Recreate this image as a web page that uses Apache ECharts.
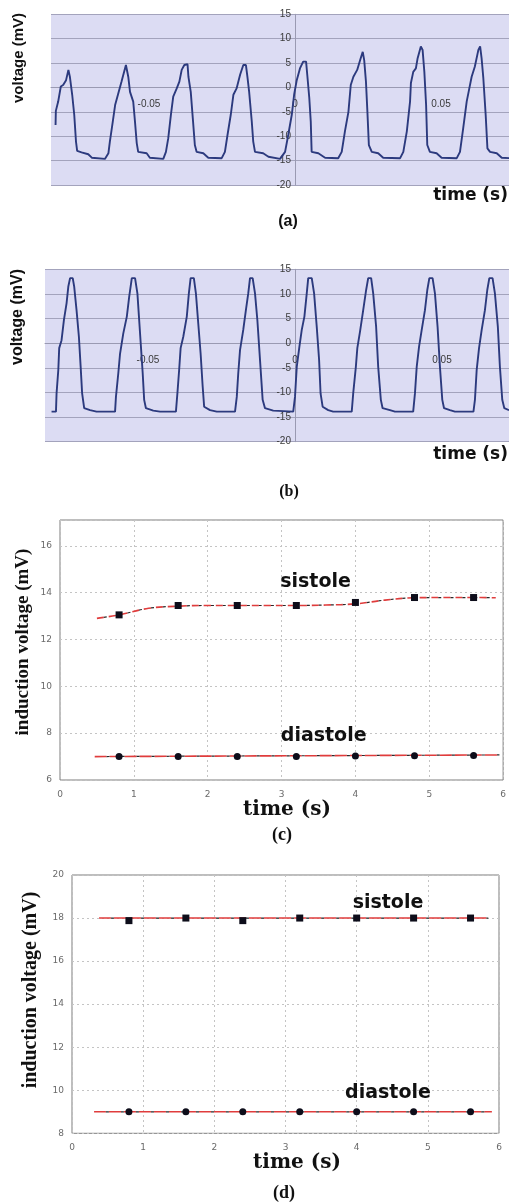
<!DOCTYPE html>
<html>
<head>
<meta charset="utf-8">
<script src="https://cdn.jsdelivr.net/npm/echarts@6/dist/echarts.min.js"></script>
<style>
html,body{margin:0;padding:0;background:#fff;}
#chart{width:509px;height:1203px;}
</style>
</head>
<body>
<div id="chart"></div>
<script>
// ---------- DATA ----------
// Panel (a): measured voltage waveform (time in s, voltage in mV)
var TIME_A = [-0.0820,-0.0819,-0.0811,-0.0802,-0.0794,-0.0784,-0.0776,-0.0771,-0.0763,-0.0756,-0.0750,-0.0746,-0.0731,-0.0708,-0.0696,-0.0651,-0.0639,-0.0634,-0.0624,-0.0616,-0.0605,-0.0594,-0.0579,-0.0571,-0.0565,-0.0554,-0.0548,-0.0542,-0.0537,-0.0508,-0.0497,-0.0451,-0.0442,-0.0434,-0.0425,-0.0417,-0.0405,-0.0396,-0.0388,-0.0379,-0.0368,-0.0365,-0.0357,-0.0350,-0.0343,-0.0337,-0.0314,-0.0297,-0.0251,-0.0240,-0.0231,-0.0220,-0.0211,-0.0200,-0.0188,-0.0177,-0.0168,-0.0163,-0.0157,-0.0148,-0.0143,-0.0137,-0.0109,-0.0091,-0.0051,-0.0034,-0.0023,-0.0011,-0.0003,0.0006,0.0017,0.0028,0.0038,0.0042,0.0049,0.0054,0.0057,0.0080,0.0103,0.0148,0.0160,0.0171,0.0183,0.0191,0.0200,0.0213,0.0225,0.0232,0.0237,0.0243,0.0248,0.0253,0.0263,0.0285,0.0302,0.0360,0.0371,0.0383,0.0394,0.0397,0.0405,0.0414,0.0420,0.0431,0.0437,0.0443,0.0449,0.0453,0.0462,0.0485,0.0502,0.0554,0.0565,0.0576,0.0588,0.0597,0.0605,0.0616,0.0628,0.0634,0.0639,0.0645,0.0653,0.0659,0.0668,0.0691,0.0708,0.0733];
var VOLT_A = [-7.7,-4.8,-2.9,0.2,0.5,1.5,3.6,2.2,-1.5,-5.6,-11.1,-13.0,-13.3,-13.7,-14.4,-14.65,-13.5,-11.1,-7.0,-3.6,-1.2,1.2,4.6,2.2,-0.9,-2.9,-7.0,-11.4,-13.2,-13.5,-14.4,-14.65,-13.2,-10.4,-5.6,-1.9,-0.2,1.2,3.6,4.6,4.75,2.2,-0.9,-6.3,-11.8,-13.2,-13.5,-14.4,-14.5,-13.2,-9.7,-5.6,-1.5,-0.2,2.6,4.6,4.6,2.2,-0.9,-7.0,-11.1,-13.2,-13.5,-14.2,-14.65,-13.2,-9.7,-5.6,-1.5,1.5,3.9,5.3,5.3,2.6,-2.2,-7.0,-13.2,-13.5,-14.4,-14.5,-13.2,-9.0,-5.0,0.5,2.2,3.6,6.0,7.3,5.6,1.2,-5.0,-11.8,-13.2,-13.5,-14.4,-14.5,-13.2,-9.0,-2.9,0.9,3.2,3.9,6.0,8.4,7.7,3.2,-3.6,-11.8,-13.2,-13.5,-14.4,-14.5,-13.2,-8.4,-2.9,-0.2,2.2,4.3,7.7,8.4,6.0,1.9,-5.6,-12.5,-13.2,-13.5,-14.4,-14.5];

// Panel (b): simulated voltage waveform
var TIME_B = [-0.0828,-0.0813,-0.0811,-0.0805,-0.0802,-0.0794,-0.0786,-0.0777,-0.0771,-0.0765,-0.0756,-0.0751,-0.0743,-0.0735,-0.0729,-0.0724,-0.0717,-0.0697,-0.0675,-0.0612,-0.0609,-0.0601,-0.0595,-0.0584,-0.0572,-0.0564,-0.0555,-0.0544,-0.0536,-0.0530,-0.0524,-0.0518,-0.0513,-0.0507,-0.0482,-0.0459,-0.0405,-0.0400,-0.0394,-0.0389,-0.0380,-0.0368,-0.0361,-0.0355,-0.0344,-0.0337,-0.0329,-0.0321,-0.0314,-0.0309,-0.0289,-0.0266,-0.0204,-0.0198,-0.0193,-0.0187,-0.0176,-0.0167,-0.0159,-0.0153,-0.0144,-0.0136,-0.0128,-0.0119,-0.0110,-0.0102,-0.0074,-0.0006,0.0000,0.0006,0.0015,0.0023,0.0032,0.0040,0.0045,0.0057,0.0065,0.0074,0.0082,0.0087,0.0094,0.0113,0.0130,0.0193,0.0198,0.0207,0.0212,0.0221,0.0232,0.0242,0.0249,0.0259,0.0266,0.0276,0.0283,0.0292,0.0298,0.0323,0.0340,0.0402,0.0408,0.0414,0.0422,0.0431,0.0442,0.0450,0.0457,0.0468,0.0476,0.0485,0.0493,0.0501,0.0507,0.0527,0.0544,0.0607,0.0612,0.0618,0.0626,0.0635,0.0646,0.0654,0.0661,0.0672,0.0680,0.0690,0.0697,0.0705,0.0712,0.0728];
var VOLT_B = [-13.9,-13.9,-10.2,-5.4,-1.0,0.6,4.7,8.1,11.5,13.2,13.2,11.5,6.7,1.3,-4.8,-10.2,-13.2,-13.6,-13.9,-13.9,-10.9,-6.1,-2.1,2.0,5.4,9.4,13.2,13.2,10.1,4.7,-0.7,-6.1,-11.5,-13.2,-13.7,-13.9,-13.9,-10.2,-5.4,-1.0,1.3,5.4,10.1,13.2,13.2,10.1,4.0,-2.1,-8.8,-12.9,-13.6,-13.9,-13.9,-10.9,-6.1,-1.4,2.7,6.7,10.1,13.2,13.2,10.1,4.7,-3.4,-11.5,-13.2,-13.7,-13.9,-10.9,-4.8,-0.7,2.7,5.4,10.1,13.2,13.2,10.1,3.3,-3.4,-10.2,-12.9,-13.6,-13.9,-13.9,-10.2,-4.8,-1.0,2.3,6.7,10.8,13.2,13.2,10.1,3.3,-4.8,-11.5,-13.2,-13.6,-13.9,-13.9,-10.2,-4.8,-0.7,2.7,6.7,10.8,13.2,13.2,10.1,3.3,-4.8,-11.5,-13.2,-13.6,-13.9,-13.9,-11.5,-5.4,-1.0,2.7,6.7,10.8,13.2,13.2,10.1,3.3,-4.8,-11.5,-13.2,-13.6];

// Panels (c) and (d): induction voltage per beat
var BEAT_TIME = [0.8, 1.6, 2.4, 3.2, 4.0, 4.8, 5.6];
var SIS_C = [13.05, 13.45, 13.45, 13.45, 13.58, 13.79, 13.79];
var DIA_C = [7.0, 7.0, 7.0, 7.0, 7.02, 7.04, 7.05];
var SIS_D = [17.88, 18.0, 17.88, 18.0, 18.0, 18.0, 18.0];
var DIA_D = [9.0, 9.0, 9.0, 9.0, 9.0, 9.0, 9.0];

// fitted trend lines
var FIT_T_SIS_C = [0.5, 0.8, 1.2, 1.6, 2.0, 2.4, 2.8, 3.2, 3.6, 4.0, 4.4, 4.8, 5.2, 5.6, 5.9];
var FIT_V_SIS_C = [12.9, 13.05, 13.33, 13.42, 13.45, 13.45, 13.45, 13.45, 13.47, 13.52, 13.68, 13.78, 13.79, 13.79, 13.78];
var FIT_T_DIA_C = [0.47, 5.95];
var FIT_V_DIA_C = [7.0, 7.07];
var FIT_T_SIS_D = [0.38, 5.85];
var FIT_V_SIS_D = [18.0, 18.0];
var FIT_T_DIA_D = [0.31, 5.9];
var FIT_V_DIA_D = [9.0, 9.0];

// axis ranges and tick labels
var X_RANGE_A = [-0.08356, 0.07329];
var X_RANGE_B = [-0.08503, 0.07279];
var X_TICKS_AB = [-0.05, 0, 0.05];
var Y_TICKS_AB = [-20, -15, -10, -5, 0, 5, 10, 15];
var X_TICKS_CD = [0, 1, 2, 3, 4, 5, 6];
var Y_TICKS_C = [6, 8, 10, 12, 14, 16];
var Y_MAX_C = 17.1;
var Y_TICKS_D = [8, 10, 12, 14, 16, 18, 20];

// annotation labels
var ANNOT_C = [{name:'sistole', t:3.46, v:14.47}, {name:'diastole', t:3.57, v:7.88}];
var ANNOT_D = [{name:'sistole', t:4.44, v:18.68}, {name:'diastole', t:4.44, v:9.89}];

// ---------- BUILD ----------
function zip(a, b) { return a.map(function (x, i) { return [x, b[i]]; }); }

var chart = echarts.init(document.getElementById('chart'), null, {renderer: 'canvas'});

var LAV = '#dcdcf3';
var GRIDLINE = '#a3a3bc';

var GRIDS = [
  {left: 51, top: 14.3, width: 458, height: 170.7},
  {left: 45, top: 269.3, width: 464, height: 172.4},
  {left: 60, top: 520, width: 445, height: 260},
  {left: 72, top: 875, width: 427, height: 258.3}
];

var yMinAB = Y_TICKS_AB[0], yMaxAB = Y_TICKS_AB[Y_TICKS_AB.length - 1];

// the wave panels cross their axes at zero: offset each axis from the grid edge to its zero value
function waveXAxis(gi) {
  var g = GRIDS[gi];
  var off = -g.height * (0 - yMinAB) / (yMaxAB - yMinAB);
  var range = gi === 0 ? X_RANGE_A : X_RANGE_B;
  return {
    type: 'value', gridIndex: gi, min: range[0], max: range[1], position: 'bottom', offset: off,
    axisLine: {show: true, onZero: false, lineStyle: {color: '#9a9ab2', width: 1}},
    axisTick: {show: false},
    splitLine: {show: false},
    axisLabel: {
      customValues: X_TICKS_AB, margin: 12, fontSize: 10, color: '#3a3a3a',
      fontFamily: 'Liberation Sans',
      formatter: function (v) { return v === 0 ? '0' : String(v); }
    }
  };
}
function waveYAxis(gi) {
  var g = GRIDS[gi];
  var range = gi === 0 ? X_RANGE_A : X_RANGE_B;
  var off = -g.width * (0 - range[0]) / (range[1] - range[0]);
  return {
    type: 'value', gridIndex: gi, min: yMinAB, max: yMaxAB, interval: 5, position: 'left', offset: off,
    axisLine: {show: true, onZero: false, lineStyle: {color: '#9a9ab2', width: 1}},
    axisTick: {show: false},
    splitLine: {show: true, lineStyle: {color: GRIDLINE, width: 1}},
    axisLabel: {margin: 4, fontSize: 10, color: '#3a3a3a', fontFamily: 'Liberation Sans'}
  };
}
function matXAxis(gi) {
  return {
    type: 'value', gridIndex: gi, min: X_TICKS_CD[0], max: X_TICKS_CD[X_TICKS_CD.length - 1], interval: 1,
    axisLine: {show: false}, axisTick: {show: false},
    splitLine: {show: true, lineStyle: {color: '#c4c4c4', type: [2, 3], width: 1}},
    axisLabel: {margin: 10, fontSize: 9, color: '#6a6a6a', fontFamily: 'DejaVu Sans'}
  };
}
function matYAxis(gi, min, max, ticks) {
  return {
    type: 'value', gridIndex: gi, min: min, max: max, interval: 2,
    axisLine: {show: false}, axisTick: {show: false},
    splitLine: {show: true, lineStyle: {color: '#c4c4c4', type: [2, 3], width: 1}},
    axisLabel: {margin: 8, fontSize: 9, color: '#6a6a6a', fontFamily: 'DejaVu Sans', showMaxLabel: ticks[ticks.length - 1] === max}
  };
}

function fitLines(xi, t, v, solid) {
  return [
    {type: 'line', xAxisIndex: xi, yAxisIndex: xi, data: zip(t, v), showSymbol: false, symbol: 'none',
     smooth: 0.4, z: 3,
     lineStyle: {color: '#e03c3c', width: 1.6, type: solid ? [12, 3] : [7, 5]}},
    {type: 'line', xAxisIndex: xi, yAxisIndex: xi, data: zip(t, v), showSymbol: false, symbol: 'none',
     smooth: 0.4, z: 4,
     lineStyle: {color: '#2a2a2a', width: 1.2, type: solid ? [3, 12] : [3, 9], dashOffset: solid ? -12 : -7}}
  ];
}
function points(xi, v, shape) {
  return {type: 'scatter', xAxisIndex: xi, yAxisIndex: xi, data: zip(BEAT_TIME, v),
    symbol: shape, symbolSize: 7, z: 5, itemStyle: {color: '#0d0d1a', opacity: 1}};
}
function annots(xi, list) {
  return {type: 'scatter', xAxisIndex: xi, yAxisIndex: xi, symbolSize: 0, z: 6, silent: true,
    itemStyle: {opacity: 1},
    data: list.map(function (a) { return {name: a.name, value: [a.t, a.v]}; }),
    label: {show: true, position: 'inside', formatter: function (p) { return p.name; },
      fontFamily: 'DejaVu Sans', fontWeight: 'bold', fontSize: 19, color: '#111', opacity: 1}};
}

function txt(x, y, text, font, align, rot) {
  return {type: 'text', x: x, y: y, rotation: rot || 0, z: 100,
    style: {text: text, font: font, fill: '#111', align: align || 'center', verticalAlign: 'middle'}};
}

var option = {
  animation: false,
  backgroundColor: '#ffffff',
  grid: [
    Object.assign({show: true, backgroundColor: LAV, borderWidth: 0}, GRIDS[0]),
    Object.assign({show: true, backgroundColor: LAV, borderWidth: 0}, GRIDS[1]),
    Object.assign({show: true, backgroundColor: '#fff', borderColor: '#7d7d7d', borderWidth: 1}, GRIDS[2]),
    Object.assign({show: true, backgroundColor: '#fff', borderColor: '#7d7d7d', borderWidth: 1}, GRIDS[3])
  ],
  xAxis: [waveXAxis(0), waveXAxis(1), matXAxis(2), matXAxis(3)],
  yAxis: [
    waveYAxis(0),
    waveYAxis(1),
    matYAxis(2, Y_TICKS_C[0], Y_MAX_C, Y_TICKS_C),
    matYAxis(3, Y_TICKS_D[0], Y_TICKS_D[Y_TICKS_D.length - 1], Y_TICKS_D)
  ],
  series: [
    {type: 'line', xAxisIndex: 0, yAxisIndex: 0, data: zip(TIME_A, VOLT_A), showSymbol: false, symbol: 'none',
     lineStyle: {color: '#2c3a7e', width: 1.9}, z: 3},
    {type: 'line', xAxisIndex: 1, yAxisIndex: 1, data: zip(TIME_B, VOLT_B), showSymbol: false, symbol: 'none',
     lineStyle: {color: '#2c3a7e', width: 1.9}, z: 3}
  ]
    .concat(fitLines(2, FIT_T_SIS_C, FIT_V_SIS_C, false))
    .concat(fitLines(2, FIT_T_DIA_C, FIT_V_DIA_C, true))
    .concat([points(2, SIS_C, 'rect'), points(2, DIA_C, 'circle'), annots(2, ANNOT_C)])
    .concat(fitLines(3, FIT_T_SIS_D, FIT_V_SIS_D, true))
    .concat(fitLines(3, FIT_T_DIA_D, FIT_V_DIA_D, true))
    .concat([points(3, SIS_D, 'rect'), points(3, DIA_D, 'circle'), annots(3, ANNOT_D)]),
  graphic: [
    txt(19, 58, 'voltage (mV)', 'bold 15px "Liberation Sans"', 'center', Math.PI / 2),
    txt(508, 196, 'time (s)', 'bold 17px "DejaVu Sans"', 'right'),
    txt(288, 222, '(a)', 'bold 16px "Liberation Sans"', 'center'),
    txt(18, 317, 'voltage (mV)', 'bold 16px "Liberation Sans"', 'center', Math.PI / 2),
    txt(508, 455, 'time (s)', 'bold 17px "DejaVu Sans"', 'right'),
    txt(289, 492, '(b)', 'bold 16px "Liberation Serif"', 'center'),
    txt(23, 642, 'induction voltage (mV)', 'bold 19px "Liberation Serif"', 'center', Math.PI / 2),
    txt(287, 810, 'time (s)', 'bold 20px "DejaVu Serif"', 'center'),
    txt(282, 835, '(c)', 'bold 18px "Liberation Serif"', 'center'),
    txt(31, 990, 'induction voltage (mV)', 'bold 20px "Liberation Serif"', 'center', Math.PI / 2),
    txt(297, 1163, 'time (s)', 'bold 20px "DejaVu Serif"', 'center'),
    txt(284, 1193, '(d)', 'bold 18px "Liberation Serif"', 'center')
  ]
};
chart.setOption(option);
</script>
</body>
</html>
